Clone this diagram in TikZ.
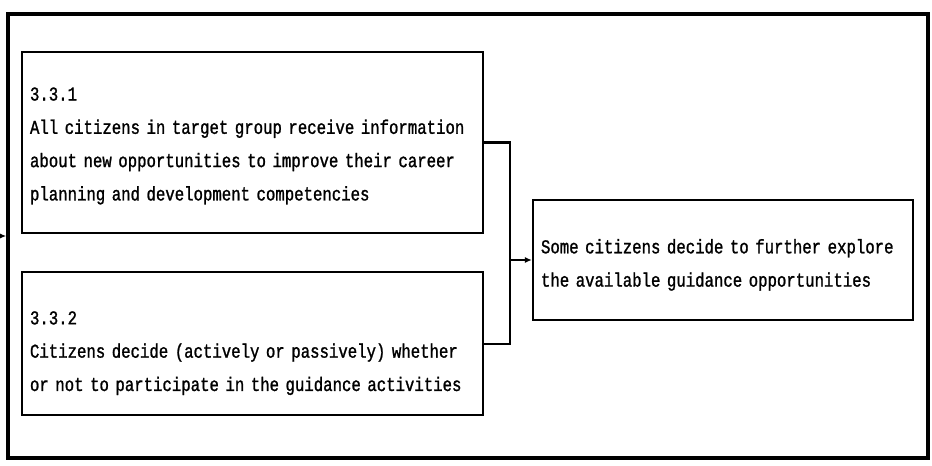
\documentclass[tikz,border=0pt]{standalone}
\usepackage{fontspec}
\setmonofont[FakeStretch=0.8,FakeBold=1.2]{Liberation Mono}
\usetikzlibrary{arrows.meta,positioning,calc}

\tikzset{
  stepbox/.style={draw,line width=2.2pt,rectangle,align=left,inner xsep=8pt,
    font=\ttfamily\fontsize{19.6}{33.3}\selectfont},
  link/.style={line width=2.2pt},
}

\begin{document}
\begin{tikzpicture}[x=1pt,y=1pt]
      \useasboundingbox (0,0) rectangle (932,-466);

      \node[draw,line width=3.5pt,minimum width=920pt,minimum height=444pt] (frame) at (468,-236) {};
      \coordinate[left = 8pt of frame.west] (in);
      \draw[-{Latex[length=7pt,width=6pt]},link] (in)--(frame.west);

      \node[stepbox,text width=445pt,minimum height=181pt] (b1) at (252.5,-142.5)
        {\rule{0pt}{20pt}3.3.1\\All citizens in target group receive information\\about new opportunities to improve their career\\planning and development competencies};

      \node[stepbox,text width=445pt,minimum height=143pt,below = 37pt of b1] (b2)
        {\rule{0pt}{32pt}3.3.2\\Citizens decide (actively or passively) whether\\or not to participate in the guidance activities};

      \node[stepbox,text width=364pt,minimum height=120pt] (b3) at (723,-260)
        {\rule{0pt}{24pt}Some citizens decide to further explore\\the available guidance opportunities};

      \coordinate (j) at ($(b3.west)+(-22,0)$);
      \draw[link] (b1.east) -| (j) |- (b2.east);
      \draw[-{Latex[length=7pt,width=6pt]},link] (j)--(b3.west);

    \end{tikzpicture}
\end{document}
